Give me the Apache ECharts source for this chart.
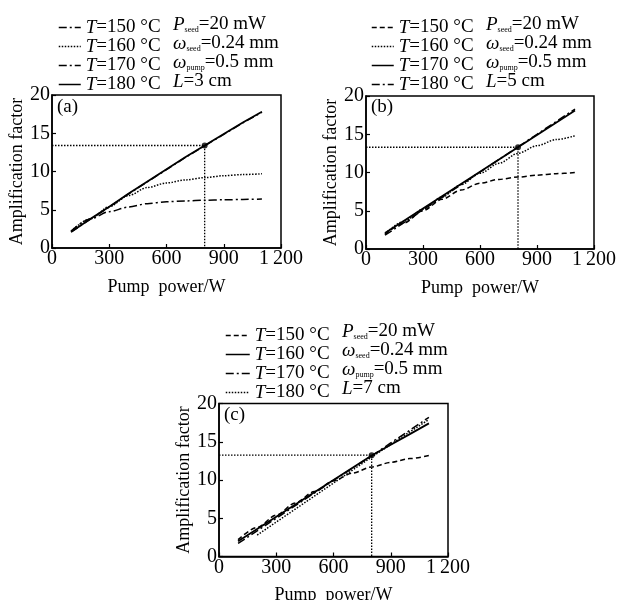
<!DOCTYPE html>
<html>
<head>
<meta charset="utf-8">
<script src="https://cdn.jsdelivr.net/npm/echarts@6/dist/echarts.min.js"></script>
<style>html,body{margin:0;padding:0;background:#fff;}#c{width:622px;height:600px;}</style>
</head>
<body>
<div id="c"></div>
<script>
// ---- data ----
const pump = [100, 200, 300, 400, 500, 600, 700, 800, 900, 1000, 1100];
const xTicks = [0, 300, 600, 900, 1200];
const yTicks = [0, 5, 10, 15, 20];
const temps = ['150', '160', '170', '180'];
// panel (a) L=3 cm
const a150 = [2.2, 3.8, 4.75, 5.35, 5.8, 6.05, 6.15, 6.25, 6.3, 6.35, 6.4];
const a160 = [2.2, 3.8, 5.4, 6.85, 7.9, 8.5, 8.9, 9.2, 9.45, 9.6, 9.7];
const a170 = [2.1, 3.75, 5.35, 7.05, 8.65, 10.25, 11.85, 13.35, 14.85, 16.35, 17.75];
const a180 = [2.1, 3.8, 5.4, 7.1, 8.7, 10.3, 11.9, 13.4, 14.9, 16.4, 17.8];
// panel (b) L=5 cm
const b150 = [1.9, 3.4, 5.0, 6.5, 7.7, 8.6, 9.1, 9.4, 9.65, 9.85, 10.0];
const b160 = [2.0, 3.6, 5.2, 6.8, 8.4, 9.9, 11.2, 12.5, 13.5, 14.3, 14.8];
const b170 = [2.1, 3.7, 5.3, 6.9, 8.5, 10.1, 11.7, 13.3, 14.9, 16.5, 18.1];
const b180 = [1.8, 3.45, 5.1, 6.75, 8.4, 10.05, 11.7, 13.35, 15.0, 16.65, 18.3];
// panel (c) L=7 cm
const c150 = [2.2, 3.8, 5.4, 7.0, 8.5, 9.9, 10.9, 11.7, 12.3, 12.8, 13.2];
const c160 = [2.0, 3.6, 5.2, 6.8, 8.4, 10.0, 11.6, 13.2, 14.6, 16.0, 17.4];
const c170 = [1.7, 3.35, 5.0, 6.65, 8.3, 9.95, 11.55, 13.15, 14.85, 16.5, 18.2];
const c180 = [null, 2.8, 4.5, 6.2, 7.9, 9.6, 11.3, 13.0, 14.65, 16.3, 17.9];
// operating point guides
const opPower = 800;
const opGain = [13.4, 13.3, 13.25];
const lengths = ['3', '5', '7'];
const panelTags = ['(a)', '(b)', '(c)'];

// ---- styles ----
const FF = '"Liberation Serif", "Times New Roman", serif';
const DASHDOT = [8, 3, 2, 3];
const DOT = [1.5, 1.5];
const DASH = [5, 3];
const styleSets = [
  [DASHDOT, DOT, DASHDOT, 'solid'],
  [DASH, DOT, 'solid', DASHDOT],
  [DASH, 'solid', DASHDOT, DOT]
];
// which curves saturate (drawn with gentle smoothing)
const curved = [[true, true, false, false], [true, true, false, false], [true, false, false, false]];
const panelData = [[a150, a160, a170, a180], [b150, b160, b170, b180], [c150, c160, c170, c180]];
const grids = [
  {left: 52, top: 95, width: 229, height: 153},
  {left: 366, top: 96, width: 228, height: 153},
  {left: 219, top: 403.5, width: 229, height: 153}
];
const legendPos = [
  {left: 53, top: 13, itemWidth: 22},
  {left: 366, top: 13, itemWidth: 22},
  {left: 220, top: 321, itemWidth: 24}
];
const paramPos = [{left: 173, top: 15}, {left: 486, top: 15}, {left: 342, top: 322}];
const tagPos = [{left: 57, top: 98}, {left: 371, top: 98}, {left: 224, top: 406}];

const option = {
  backgroundColor: '#fff',
  animation: false,
  grid: [], xAxis: [], yAxis: [], series: [], legend: [], graphic: []
};

const rich = {
  i: {fontFamily: FF, fontSize: 19, fontStyle: 'italic', color: '#000', lineHeight: 19},
  n: {fontFamily: FF, fontSize: 19, color: '#000', lineHeight: 19},
  s: {fontFamily: FF, fontSize: 8, color: '#000', lineHeight: 9, verticalAlign: 'bottom'}
};

for (let p = 0; p < 3; p++) {
  option.grid.push(Object.assign({show: true, borderColor: '#000', borderWidth: 1.5, containLabel: false, outerBoundsMode: 'none'}, grids[p]));
  option.xAxis.push({
    type: 'value', gridIndex: p, min: xTicks[0], max: xTicks[xTicks.length - 1], interval: 300,
    name: 'Pump\u00a0\u00a0power/W', nameLocation: 'middle', nameGap: 30,
    nameTextStyle: {fontFamily: FF, fontSize: 18, color: '#000'},
    axisLine: {show: true, onZero: false, lineStyle: {color: '#000', width: 1.5}},
    axisTick: {show: true, inside: true, length: 4, lineStyle: {color: '#000', width: 1.2}},
    axisLabel: {fontFamily: FF, fontSize: 20, color: '#000', margin: 1,
      formatter: v => v === 1200 ? '1\u2009200' : String(v)},
    splitLine: {show: false}
  });
  option.yAxis.push({
    type: 'value', gridIndex: p, min: yTicks[0], max: yTicks[yTicks.length - 1], interval: 5,
    name: 'Amplification factor', nameLocation: 'middle', nameGap: 26,
    nameTextStyle: {fontFamily: FF, fontSize: 18, color: '#000'},
    axisLine: {show: true, onZero: false, lineStyle: {color: '#000', width: 1.5}},
    axisTick: {show: true, inside: true, length: 4, lineStyle: {color: '#000', width: 1.2}},
    axisLabel: {fontFamily: FF, fontSize: 20, color: '#000', margin: 2},
    splitLine: {show: false}
  });
  const names = [];
  const order = [0, 1, 2, 3].sort((u, v) => (styleSets[p][u] === 'solid') - (styleSets[p][v] === 'solid'));
  const seriesByIdx = [];
  for (let k = 0; k < 4; k++) {
    const nm = 'abc'[p] + temps[k];
    names.push(nm);
    const vals = panelData[p][k];
    const d = [];
    pump.forEach((x, i) => { if (vals[i] != null) d.push([x, vals[i]]); });
    seriesByIdx[k] = {
      name: nm, type: 'line', xAxisIndex: p, yAxisIndex: p, data: d,
      smooth: curved[p][k] ? 0.3 : false, smoothMonotone: curved[p][k] ? 'x' : undefined,
      symbol: 'none', showSymbol: false,
      lineStyle: {color: '#000', width: styleSets[p][k] === 'solid' ? 1.8 : 1.5, type: styleSets[p][k]},
      itemStyle: {color: '#000'}, z: 3
    };
  }
  order.forEach(k => option.series.push(seriesByIdx[k]));
  // operating point guides
  option.series.push({
    type: 'line', xAxisIndex: p, yAxisIndex: p, symbol: 'none', silent: true,
    data: [[0, opGain[p]], [opPower, opGain[p]], [opPower, 0]],
    lineStyle: {color: '#000', width: 1.3, type: [1.5, 1.5]}, z: 2
  });
  option.series.push({
    type: 'scatter', xAxisIndex: p, yAxisIndex: p, symbolSize: 6,
    data: [[opPower, opGain[p]]], itemStyle: {color: '#000'}, z: 4
  });
  option.legend.push({
    orient: 'vertical', left: legendPos[p].left, top: legendPos[p].top,
    itemGap: 0, itemWidth: legendPos[p].itemWidth, itemHeight: 10, selectedMode: false,
    data: names,
    formatter: nm => '{i|T}{n|=' + nm.slice(1) + ' °C}',
    textStyle: {fontFamily: FF, fontSize: 19, color: '#000', lineHeight: 19, rich: rich},
    itemStyle: {color: 'rgba(0,0,0,0)', borderWidth: 0, borderColor: 'rgba(0,0,0,0)'},
    lineStyle: {width: 1.5}
  });
  option.graphic.push({
    type: 'text', left: paramPos[p].left, top: paramPos[p].top,
    style: {
      text: '{i|P}{s|seed}{n|=20 mW}\n{i|ω}{s|seed}{n|=0.24 mm}\n{i|ω}{s|pump}{n|=0.5 mm}\n{i|L}{n|=' + lengths[p] + ' cm}',
      rich: rich, fontFamily: FF, fontSize: 19, lineHeight: 19, fill: '#000'
    }
  });
  option.graphic.push({
    type: 'text', left: tagPos[p].left, top: tagPos[p].top,
    style: {text: panelTags[p], fontFamily: FF, fontSize: 19, fill: '#000'}
  });
}

const chart = echarts.init(document.getElementById('c'), null, {renderer: 'canvas'});
chart.setOption(option);
</script>
</body>
</html>
